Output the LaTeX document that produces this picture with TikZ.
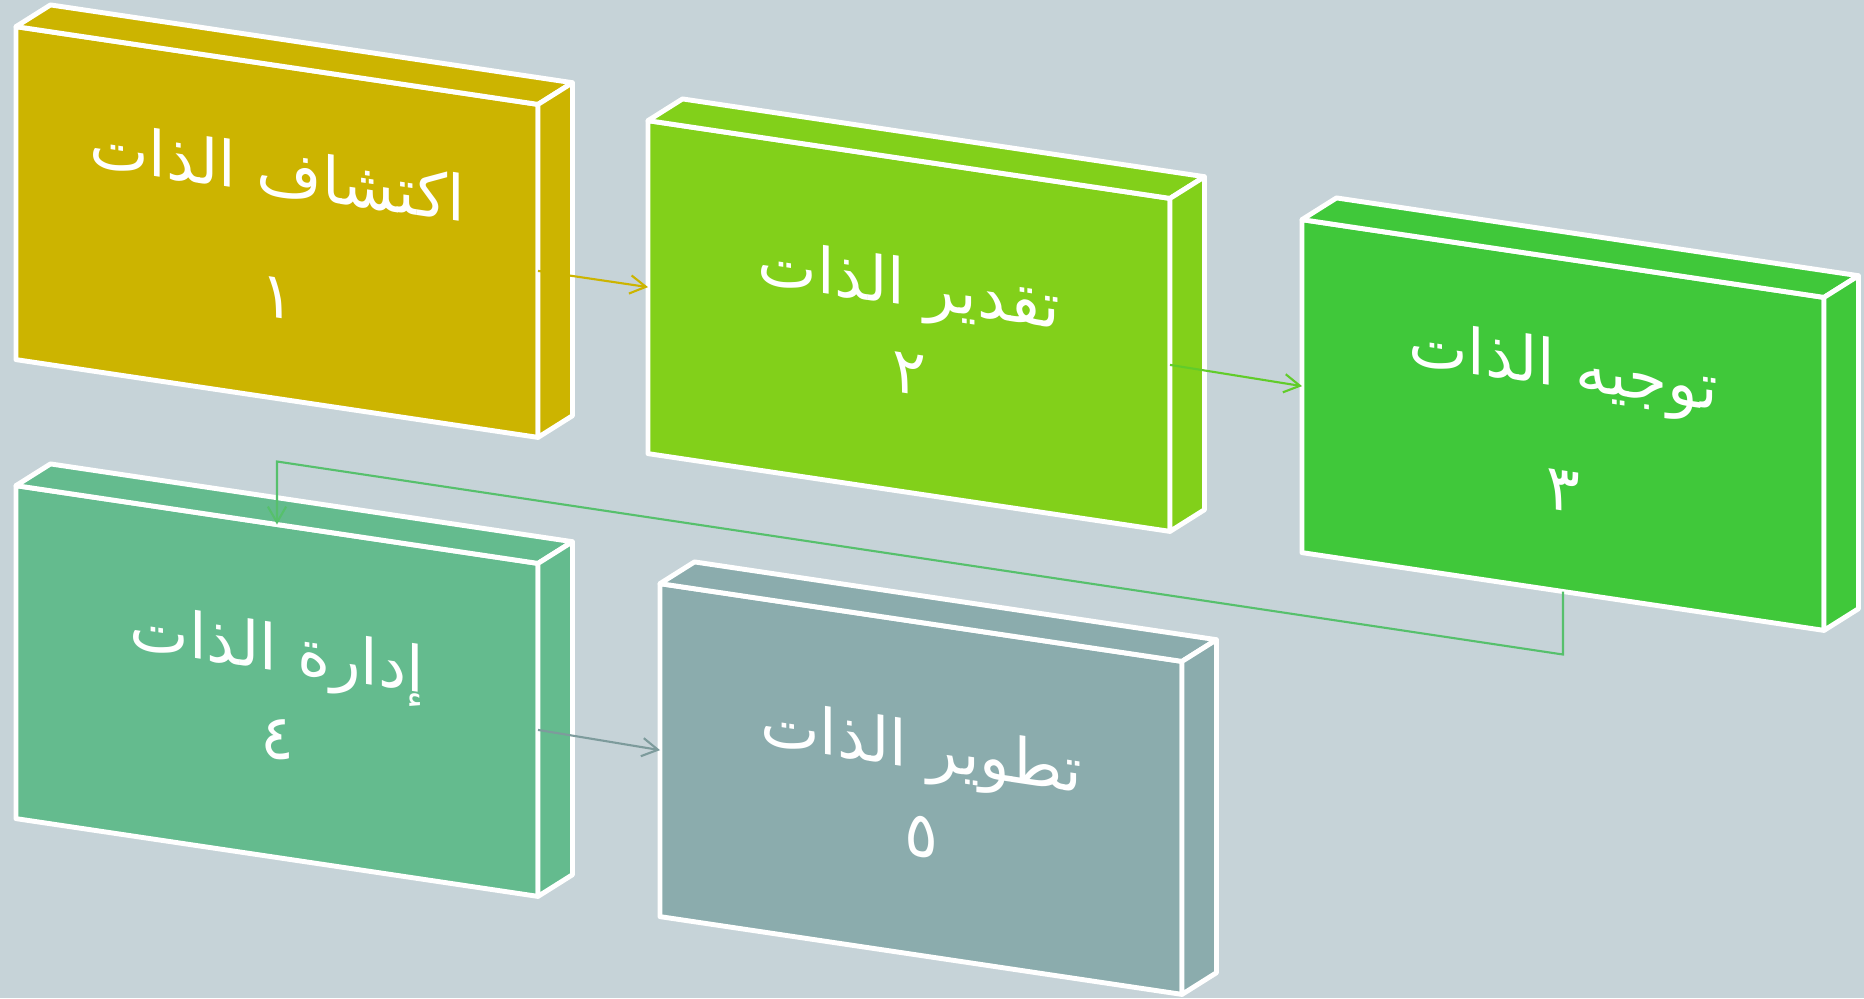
\documentclass[tikz,border=0pt]{standalone}
\usepackage{fontspec}
\newfontfamily\arabicfont[Script=Arabic]{DejaVu Sans}
\TeXXeTstate=1
\usepackage{tikz}
\usetikzlibrary{arrows.meta, calc}
\definecolor{bgcol}{RGB}{198,211,216}
\definecolor{boxa}{RGB}{204,180,0}
\definecolor{boxb}{RGB}{130,208,26}
\definecolor{boxc}{RGB}{64,200,58}
\definecolor{boxd}{RGB}{100,187,142}
\definecolor{boxe}{RGB}{139,172,173}
\tikzstyle{face} = [draw=white, line width=1.4pt, line join=round, minimum width=5.22cm, minimum height=3.33cm, inner sep=0pt, outer sep=0pt, text=white, align=center, font=\arabicfont\fontsize{18}{25}\selectfont, yslant=-0.149]
\tikzstyle{depth} = [draw=white, line width=1.4pt, line join=round]
\tikzstyle{link} = [line width=0.6pt, -{Straight Barb[length=4.5pt, width=5.2pt]}]

\begin{document}
\begin{tikzpicture}[node distance=6.4cm]

    % Background
    \path[use as bounding box, fill=bgcol] (0,0) rectangle (18.64,-9.98);

    % Front faces
    \node (b1) [face, fill=boxa] at (2.77,-2.32) {\beginR اكتشاف الذات\endR\\[10pt]\beginR ١\endR};
    \node (b2) [right of=b1, xshift=-0.08cm, yshift=-0.94cm, face, fill=boxb] {\beginR تقدير الذات\endR\\\beginR ٢\endR};
    \node (b3) [right of=b2, xshift=0.14cm, yshift=-0.99cm, face, fill=boxc] {\beginR توجيه الذات\endR\\[10pt]\beginR ٣\endR};
    \node (b4) [below of=b1, yshift=1.81cm, face, fill=boxd] {\beginR إدارة الذات\endR\\\beginR ٤\endR};
    \node (b5) [right of=b4, xshift=0.04cm, yshift=-0.98cm, face, fill=boxe] {\beginR تطوير الذات\endR\\\beginR ٥\endR};

    % Top and side faces
    \draw [depth, fill=boxa] (b1.north west) -- ++(0.345,0.217) -- ($(b1.north east)+(0.345,0.217)$) -- (b1.north east) -- cycle;
    \draw [depth, fill=boxa] (b1.north east) -- ++(0.345,0.217) -- ($(b1.south east)+(0.345,0.217)$) -- (b1.south east) -- cycle;
    \draw [depth, fill=boxb] (b2.north west) -- ++(0.345,0.217) -- ($(b2.north east)+(0.345,0.217)$) -- (b2.north east) -- cycle;
    \draw [depth, fill=boxb] (b2.north east) -- ++(0.345,0.217) -- ($(b2.south east)+(0.345,0.217)$) -- (b2.south east) -- cycle;
    \draw [depth, fill=boxc] (b3.north west) -- ++(0.345,0.217) -- ($(b3.north east)+(0.345,0.217)$) -- (b3.north east) -- cycle;
    \draw [depth, fill=boxc] (b3.north east) -- ++(0.345,0.217) -- ($(b3.south east)+(0.345,0.217)$) -- (b3.south east) -- cycle;
    \draw [depth, fill=boxd] (b4.north west) -- ++(0.345,0.217) -- ($(b4.north east)+(0.345,0.217)$) -- (b4.north east) -- cycle;
    \draw [depth, fill=boxd] (b4.north east) -- ++(0.345,0.217) -- ($(b4.south east)+(0.345,0.217)$) -- (b4.south east) -- cycle;
    \draw [depth, fill=boxe] (b5.north west) -- ++(0.345,0.217) -- ($(b5.north east)+(0.345,0.217)$) -- (b5.north east) -- cycle;
    \draw [depth, fill=boxe] (b5.north east) -- ++(0.345,0.217) -- ($(b5.south east)+(0.345,0.217)$) -- (b5.south east) -- cycle;

    % Connections
    \draw [link, draw=boxa] (b1.east) -- (b2.west);
    \draw [link, draw=boxb!50!boxc] (b2.east) -- (b3.west);
    \draw [link, draw=boxc!40!boxd] (b3.south) -- ++(0,-0.63) -- ($(b4.north)+(0,0.63)$) -- (b4.north);
    \draw [link, draw=boxe!90!black] (b4.east) -- (b5.west);

\end{tikzpicture}
\end{document}
